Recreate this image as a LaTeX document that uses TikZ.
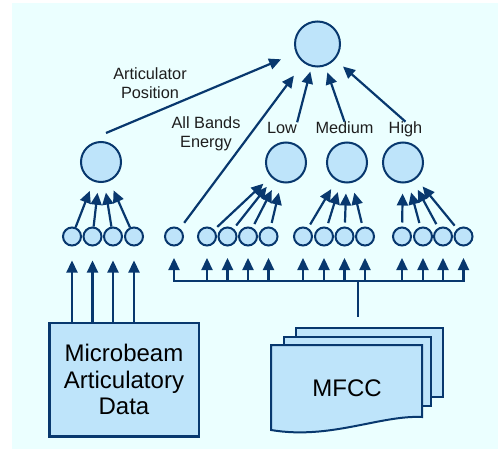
\documentclass[tikz,border=0pt]{standalone}
\usepackage{fontspec}
\setmainfont{Liberation Sans}
\usetikzlibrary{arrows.meta,calc}
\definecolor{bg}{RGB}{235,255,255}
\definecolor{nfill}{RGB}{190,228,250}
\definecolor{navy}{RGB}{8,56,110}
\definecolor{txt}{RGB}{30,30,30}
\begin{document}
\begin{tikzpicture}[x=1pt,y=-1pt,
  conn/.style={draw=navy,line width=2.2pt},
  arr/.style={conn,-{Triangle[length=12pt,width=11pt]}},
  bignode/.style={circle,draw=navy,fill=nfill,line width=2pt,minimum size=45pt,inner sep=0pt},
  midnode/.style={circle,draw=navy,fill=nfill,line width=2pt,minimum size=40pt,inner sep=0pt},
  smallnode/.style={circle,draw=navy,fill=nfill,line width=2pt,minimum size=18pt,inner sep=0pt},
  lbl/.style={text=txt,font=\fontsize{16.3}{19}\selectfont,align=center,inner sep=0pt},
  bigtxt/.style={text=black,font=\fontsize{24}{26.5}\selectfont,align=center},
  docshape/.style={draw=navy,fill=nfill,line width=2pt}
]
\useasboundingbox (0,0) rectangle (498,449);
\fill[bg] (12,3) rectangle (498,449);

% main nodes
\node[bignode] (top) at (317.5,44) {};
\node[midnode] (m1) at (101,162) {};
\node[midnode] (low) at (286,162.5) {};
\node[midnode] (med) at (347,162.5) {};
\node[midnode] (high) at (403,162.5) {};

% small nodes
\foreach \i/\x in {1/72,2/92.5,3/113,4/134,5/174,6/207,7/227.5,8/248,9/268.5,10/303,11/324,12/344.5,13/365,14/402,15/423,16/443,17/463.5}
  \node[smallnode] (s\i) at (\x,236.5) {};

% labels
\node[lbl,anchor=north] (apl) at (150,67) {Articulator\\Position};
\node[lbl,anchor=north] (abl) at (206,116) {All Bands\\Energy};
\node[lbl,anchor=base] (lowl) at (282,133.7) {Low};
\node[lbl,anchor=base] (medl) at (344.5,133.7) {Medium};
\node[lbl,anchor=base] (highl) at (405.5,133.7) {High};

% arrows to top
\coordinate (apstart) at (106,133);
\draw[arr,shorten >=16pt] (apstart) -- (top);
\draw[arr,shorten <=7pt,shorten >=16pt] (s5) -- (top);
\draw[arr,shorten >=5pt] (lowl.north east) -- (top);
\draw[arr,shorten >=6.5pt] (medl.north) -- (top);
\draw[arr,shorten >=10.5pt] (highl.north) -- (top);

% arrows to mid nodes
\foreach \i in {1,2,3,4} \draw[arr,shorten >=10pt] (s\i) -- (m1);
\foreach \i in {6,7,8,9} \draw[arr,shorten <=4pt,shorten >=10pt] (s\i) -- (low);
\foreach \i in {10,11,12,13} \draw[arr,shorten <=4pt,shorten >=10pt] (s\i) -- (med);
\foreach \i in {14,15,16,17} \draw[arr,shorten <=4pt,shorten >=10pt] (s\i) -- (high);

% articulatory data box
\node[draw=navy,fill=nfill,line width=2.5pt,minimum width=149.5pt,minimum height=113.5pt,bigtxt] (mad) at (124,379.5) {Microbeam\\Articulatory\\Data};
\foreach \i in {1,2,3,4} \draw[arr,shorten >=14pt] (s\i |- mad.north) -- (s\i);

% bus
\coordinate (bus) at (358,281);
\coordinate (stembot) at (358,317);
\draw[conn,line cap=rect] (s5 |- bus) -- (s17 |- bus);
\foreach \i in {5,...,17} \draw[arr,shorten >=11.5pt] (s\i |- bus) -- (s\i);
\draw[conn] (bus) -- (stembot);

% MFCC stack
\filldraw[docshape] (296,328) rectangle (443,397);
\filldraw[docshape] (284,337) rectangle (431,406);
\filldraw[docshape] (271,345) -- (422,345) -- (422,417) .. controls (380,415) and (330,440) .. (271,430) -- cycle;
\node[bigtxt] (mfcc) at (347,388) {MFCC};
\end{tikzpicture}
\end{document}
